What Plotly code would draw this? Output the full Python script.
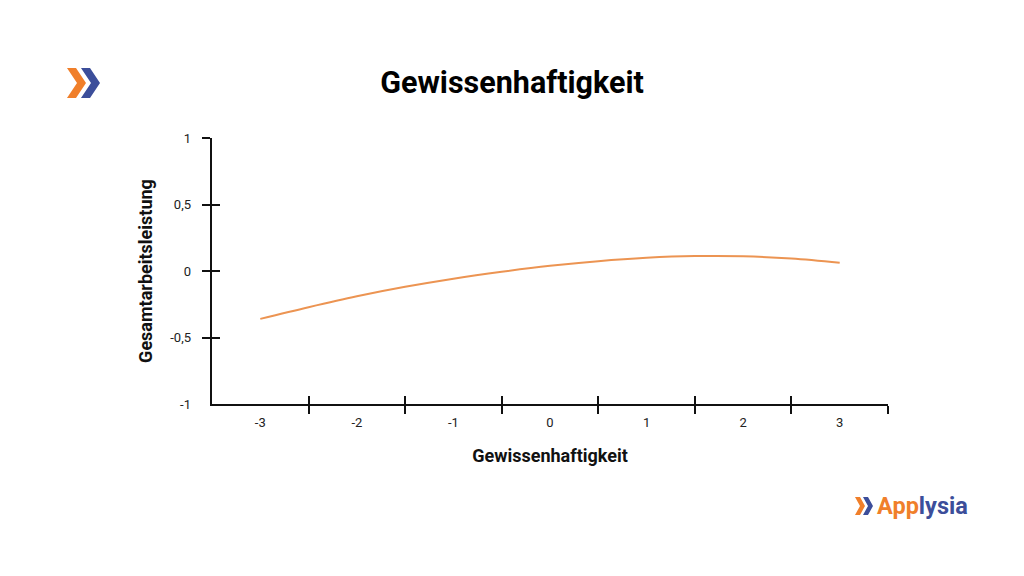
import plotly.graph_objects as go

# Data
x_vals = [-3, -2.5, -2, -1.5, -1, -0.5, 0, 0.5, 1, 1.5, 2, 2.5, 3]
y_vals = [-0.36, -0.272, -0.19, -0.119, -0.058, -0.006, 0.039, 0.074, 0.099, 0.112, 0.111, 0.094, 0.062]

x_tick_labels_vals = [-3, -2, -1, 0, 1, 2, 3]
x_tick_labels = ["-3", "-2", "-1", "0", "1", "2", "3"]
x_tick_marks = [-2.5, -1.5, -0.5, 0.5, 1.5, 2.5, 3.5]

y_tick_labels_vals = [-1, -0.5, 0, 0.5, 1]
y_tick_labels = ["-1", "-0,5", "0", "0,5", "1"]
y_tick_marks = [-0.5, 0, 0.5, 1]

title_text = "Gewissenhaftigkeit"
x_title = "Gewissenhaftigkeit"
y_title = "Gesamtarbeitsleistung"

ORANGE = "#F07F2A"
BLUE = "#3C4E9A"
LINE = "#EC9452"
FONT = "Roboto"

# the page adds an 8px body margin, so the figure is drawn 8px smaller/offset
OFF = 8
W, H = 1024 - OFF, 576 - OFF
L, T = 212 - OFF, 138 - OFF
R = W - (888 - OFF)
B = H - (404 - OFF)
PW, PH = W - L - R, H - T - B


def px(xp):
    return (xp - OFF - L) / PW


def py(yp):
    return (H - B - (yp - OFF)) / PH


fig = go.Figure()
fig.add_trace(go.Scatter(x=x_vals, y=y_vals, mode="lines",
                         line=dict(color=LINE, width=2, shape="spline"),
                         hoverinfo="skip", showlegend=False))
for ax in ("2", "3"):
    fig.add_trace(go.Scatter(x=x_vals, y=y_vals, mode="lines", xaxis="x" + ax, yaxis="y" + ax,
                             line=dict(color="rgba(0,0,0,0)", width=0),
                             hoverinfo="skip", showlegend=False))

common = dict(showgrid=False, zeroline=False, fixedrange=True)
tick_style = dict(ticklen=8, tickwidth=2, tickcolor="#111111")

fig.update_layout(
    width=W, height=H,
    margin=dict(l=L, r=R, t=T, b=B, pad=0),
    paper_bgcolor="white", plot_bgcolor="white",
    font=dict(family=FONT, size=13, color="#222222"),
    showlegend=False,
    xaxis=dict(range=[-3.5, 3.5], showline=True, linecolor="#111111", linewidth=2,
               tickmode="array", tickvals=x_tick_marks, ticks="outside",
               showticklabels=False, **tick_style, **common),
    yaxis=dict(range=[-1, 1], showline=True, linecolor="#111111", linewidth=2,
               tickmode="array", tickvals=y_tick_marks, ticks="outside",
               showticklabels=False, **tick_style, **common),
    xaxis2=dict(range=[-3.5, 3.5], overlaying="x", anchor="y2", showline=False,
                tickmode="array", tickvals=x_tick_marks, ticks="inside",
                showticklabels=False, **tick_style, **common),
    yaxis2=dict(range=[-1, 1], overlaying="y", anchor="x2", showline=False,
                tickmode="array", tickvals=y_tick_marks, ticks="inside",
                showticklabels=False, **tick_style, **common),
    xaxis3=dict(range=[-3.5, 3.5], overlaying="x", anchor="y3", showline=False,
                tickmode="array", tickvals=x_tick_labels_vals, ticktext=x_tick_labels,
                ticks="", ticklabelstandoff=9,
                tickfont=dict(family=FONT, size=13, color="#222222"),
                title=dict(text="<b>" + x_title + "</b>", standoff=20,
                           font=dict(family=FONT, size=18, color="#111111")),
                **common),
    yaxis3=dict(range=[-1, 1], overlaying="y", anchor="x3", showline=False,
                tickmode="array", tickvals=y_tick_labels_vals, ticktext=y_tick_labels,
                ticks="", ticklabelstandoff=20,
                tickfont=dict(family=FONT, size=13, color="#222222"),
                title=dict(text="<b>" + y_title + "</b>", standoff=12,
                           font=dict(family=FONT, size=18, color="#111111")),
                **common),
    title=dict(text="<b>" + title_text + "</b>", x=(512 - OFF) / W, xanchor="center",
               y=1 - (82 - OFF) / H, yanchor="middle",
               font=dict(family=FONT, size=30.5, color="#000000")),
)


def chevron(x0, y0, w, h, t, color):
    pts = [(x0, y0), (x0 + t, y0), (x0 + w, y0 + h / 2), (x0 + t, y0 + h),
           (x0, y0 + h), (x0 + w - t, y0 + h / 2)]
    path = "M " + " L ".join(f"{px(a):.5f},{py(b):.5f}" for a, b in pts) + " Z"
    fig.add_shape(type="path", path=path, xref="paper", yref="paper",
                  fillcolor=color, line=dict(width=0), layer="above")


# Top-left logo
chevron(67, 68, 19, 30, 9, ORANGE)
chevron(81, 68, 19, 30, 9, BLUE)
# Bottom-right logo
chevron(855, 497, 10, 18, 5, ORANGE)
chevron(863, 497, 10, 18, 5, BLUE)

fig.add_annotation(x=px(875), y=py(506), xref="paper", yref="paper",
                   xanchor="left", yanchor="middle", showarrow=False,
                   text=f"<b><span style='color:{ORANGE}'>App</span><span style='color:{BLUE}'>lysia</span></b>",
                   font=dict(family=FONT, size=23.5))

fig.write_html("out.html")
